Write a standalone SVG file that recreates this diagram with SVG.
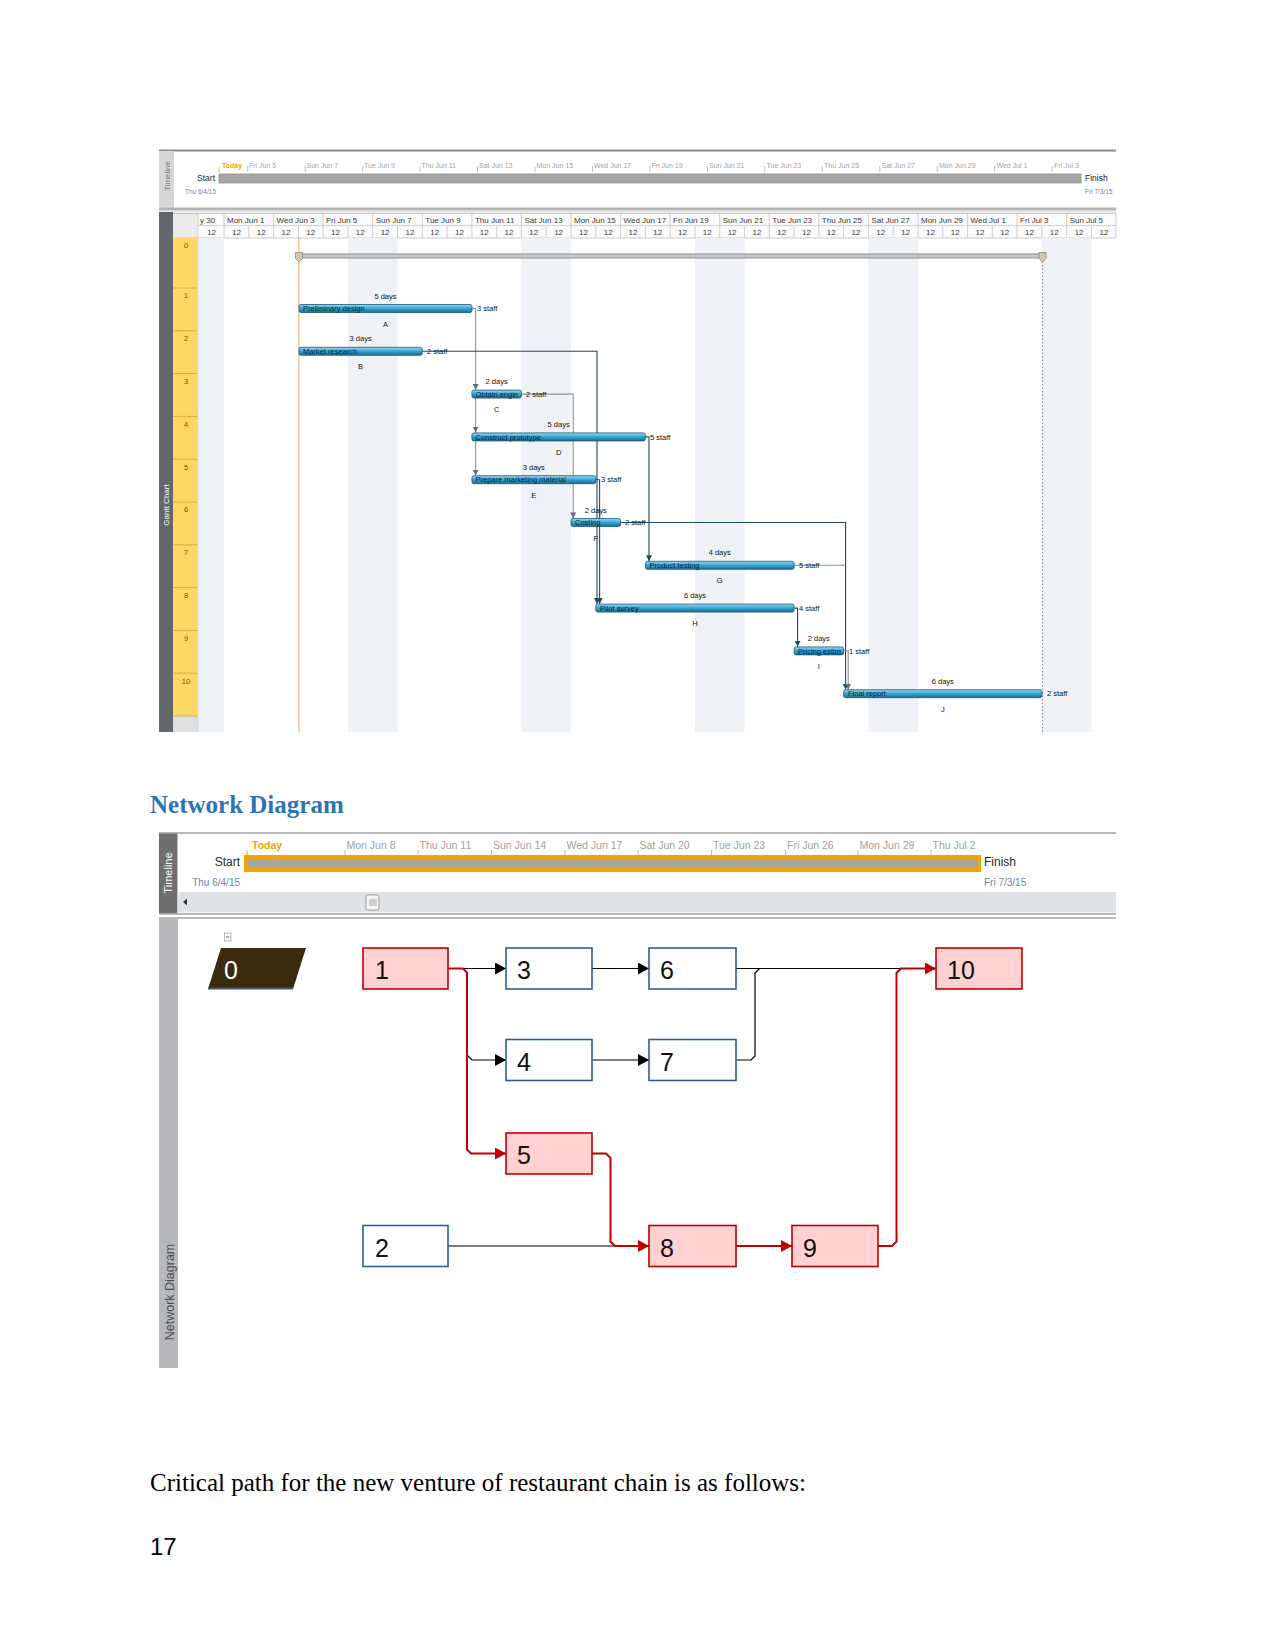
<svg xmlns="http://www.w3.org/2000/svg" width="1275" height="1650" viewBox="0 0 1275 1650">
<style>
.ui{font-family:"Liberation Sans Narrow","Liberation Sans",Arial,sans-serif}
.tl{font-size:7px;fill:#a3a3a3}
.hd{font-size:8px;fill:#3a3a3a}
.rl{font-size:7.5px;fill:#6b5500;text-anchor:middle}
.tn{font-size:7.5px;fill:#0b2536}
.lb{font-size:7.5px;fill:#111}
.lc{font-size:7.5px;fill:#111;text-anchor:middle}
.bar{fill:url(#barGrad);stroke:#175a78;stroke-width:0.8}
.cd{fill:none;stroke:#1c4d62;stroke-width:1.1}
.cg{fill:none;stroke:#87939a;stroke-width:1.1}
.nt{font-size:10.5px;fill:#a0a0a0}
.nd{font-family:"Liberation Sans Narrow","Liberation Sans",Arial,sans-serif;font-size:25px;fill:#111}
.crit{fill:#ffd1d1;stroke:#c00000;stroke-width:1.6}
.norm{fill:#ffffff;stroke:#2d5e97;stroke-width:1.6}
.nb{fill:none;stroke:#000;stroke-width:1.2}
.nr{fill:none;stroke:#c00000;stroke-width:2}
</style>
<defs>
<linearGradient id="barGrad" x1="0" y1="0" x2="0" y2="1">
<stop offset="0" stop-color="#9ad9f2"/>
<stop offset="0.45" stop-color="#3ea8d6"/>
<stop offset="1" stop-color="#1a6b92"/>
</linearGradient>
<marker id="aDark" markerUnits="userSpaceOnUse" markerWidth="6" markerHeight="6" refX="6" refY="3" orient="auto"><path d="M0,0 L6,3 L0,6 z" fill="#1c4d62"/></marker>
<marker id="aGray" markerUnits="userSpaceOnUse" markerWidth="6" markerHeight="6" refX="6" refY="3" orient="auto"><path d="M0,0 L6,3 L0,6 z" fill="#5f6d75"/></marker>
<marker id="nBlack" markerUnits="userSpaceOnUse" markerWidth="11" markerHeight="12" refX="11" refY="6" orient="auto"><path d="M0,0 L11,6 L0,12 z" fill="#000"/></marker>
<marker id="nRed" markerUnits="userSpaceOnUse" markerWidth="11" markerHeight="12" refX="11" refY="6" orient="auto"><path d="M0,0 L11,6 L0,12 z" fill="#c00000"/></marker>
</defs>
<rect width="1275" height="1650" fill="#ffffff"/>

<!-- ================= GANTT ================= -->
<g id="gantt-timeline">
<line x1="159" y1="150.5" x2="1116" y2="150.5" stroke="#8c8c8c" stroke-width="2"/>
<rect x="159" y="151" width="15" height="57" fill="#d6d6d6"/>
<text class="ui" x="0" y="0" font-size="8" fill="#7a7a7a" text-anchor="middle" transform="translate(169.5,176) rotate(-90)">Timeline</text>
<g class="ui">
<line x1="219" y1="166" x2="219" y2="172" stroke="#f0a000" stroke-width="0.8"/>
<text x="222" y="168" font-size="7" font-weight="bold" fill="#f0a000">Today</text>
<g stroke="#b0b0b0" stroke-width="0.8">
<line x1="247.7" y1="166" x2="247.7" y2="172"/><line x1="305.2" y1="166" x2="305.2" y2="172"/><line x1="362.7" y1="166" x2="362.7" y2="172"/><line x1="420.1" y1="166" x2="420.1" y2="172"/><line x1="477.6" y1="166" x2="477.6" y2="172"/><line x1="535" y1="166" x2="535" y2="172"/><line x1="592.5" y1="166" x2="592.5" y2="172"/><line x1="649.9" y1="166" x2="649.9" y2="172"/><line x1="707.4" y1="166" x2="707.4" y2="172"/><line x1="764.8" y1="166" x2="764.8" y2="172"/><line x1="822.3" y1="166" x2="822.3" y2="172"/><line x1="879.8" y1="166" x2="879.8" y2="172"/><line x1="937.2" y1="166" x2="937.2" y2="172"/><line x1="994.7" y1="166" x2="994.7" y2="172"/><line x1="1052.1" y1="166" x2="1052.1" y2="172"/>
</g>
<text class="tl" x="249" y="168">Fri Jun 5</text>
<text class="tl" x="306.5" y="168">Sun Jun 7</text>
<text class="tl" x="364" y="168">Tue Jun 9</text>
<text class="tl" x="421.5" y="168">Thu Jun 11</text>
<text class="tl" x="479" y="168">Sat Jun 13</text>
<text class="tl" x="536.5" y="168">Mon Jun 15</text>
<text class="tl" x="594" y="168">Wed Jun 17</text>
<text class="tl" x="651.5" y="168">Fri Jun 19</text>
<text class="tl" x="709" y="168">Sun Jun 21</text>
<text class="tl" x="766.5" y="168">Tue Jun 23</text>
<text class="tl" x="824" y="168">Thu Jun 25</text>
<text class="tl" x="881.5" y="168">Sat Jun 27</text>
<text class="tl" x="939" y="168">Mon Jun 29</text>
<text class="tl" x="996.5" y="168">Wed Jul 1</text>
<text class="tl" x="1054" y="168">Fri Jul 3</text>
<rect x="219" y="174" width="862" height="9" fill="#a6a6a6" stroke="#8d8d8d" stroke-width="0.8"/>
<text x="215" y="181" font-size="8.5" fill="#222" text-anchor="end">Start</text>
<text x="216" y="194" font-size="6.5" fill="#6f86b3" text-anchor="end">Thu 6/4/15</text>
<text x="1085" y="181" font-size="8.5" fill="#222">Finish</text>
<text x="1085" y="194" font-size="6.5" fill="#6f86b3">Fri 7/3/15</text>
</g>
<rect x="159" y="207.5" width="957" height="3" fill="#b3b3b3"/>
<line x1="159" y1="212" x2="1116" y2="212" stroke="#d0d0d0" stroke-width="1"/>
</g>

<g id="gantt-grid">
<rect x="159" y="212" width="14" height="520" fill="#63676c"/>
<text class="ui" x="0" y="0" font-size="8" fill="#ffffff" text-anchor="middle" transform="translate(169,505) rotate(-90)">Gantt Chart</text>
<rect x="173" y="213" width="25" height="25" fill="#ebebeb"/>
<rect x="198" y="213.5" width="918" height="24.5" fill="#fbfbfb"/>
<line x1="173" y1="213.5" x2="1116" y2="213.5" stroke="#bdbdbd" stroke-width="0.8"/>
<line x1="198" y1="225.5" x2="1116" y2="225.5" stroke="#c4c4c4" stroke-width="0.8"/>
<line x1="173" y1="238" x2="1116" y2="238" stroke="#bdbdbd" stroke-width="0.8"/>
<g stroke="#c4c4c4" stroke-width="0.8">
<line x1="198" y1="213.5" x2="198" y2="238"/>
<line x1="224" y1="213.5" x2="224" y2="238"/><line x1="273.6" y1="213.5" x2="273.6" y2="238"/><line x1="323.1" y1="213.5" x2="323.1" y2="238"/><line x1="372.7" y1="213.5" x2="372.7" y2="238"/><line x1="422.3" y1="213.5" x2="422.3" y2="238"/><line x1="471.9" y1="213.5" x2="471.9" y2="238"/><line x1="521.4" y1="213.5" x2="521.4" y2="238"/><line x1="571" y1="213.5" x2="571" y2="238"/><line x1="620.6" y1="213.5" x2="620.6" y2="238"/><line x1="670.1" y1="213.5" x2="670.1" y2="238"/><line x1="719.7" y1="213.5" x2="719.7" y2="238"/><line x1="769.3" y1="213.5" x2="769.3" y2="238"/><line x1="818.8" y1="213.5" x2="818.8" y2="238"/><line x1="868.4" y1="213.5" x2="868.4" y2="238"/><line x1="918" y1="213.5" x2="918" y2="238"/><line x1="967.6" y1="213.5" x2="967.6" y2="238"/><line x1="1017.1" y1="213.5" x2="1017.1" y2="238"/><line x1="1066.7" y1="213.5" x2="1066.7" y2="238"/><line x1="1116" y1="213.5" x2="1116" y2="238"/>
<line x1="248.8" y1="225.5" x2="248.8" y2="238"/><line x1="298.4" y1="225.5" x2="298.4" y2="238"/><line x1="347.9" y1="225.5" x2="347.9" y2="238"/><line x1="397.5" y1="225.5" x2="397.5" y2="238"/><line x1="447.1" y1="225.5" x2="447.1" y2="238"/><line x1="496.6" y1="225.5" x2="496.6" y2="238"/><line x1="546.2" y1="225.5" x2="546.2" y2="238"/><line x1="595.8" y1="225.5" x2="595.8" y2="238"/><line x1="645.4" y1="225.5" x2="645.4" y2="238"/><line x1="694.9" y1="225.5" x2="694.9" y2="238"/><line x1="744.5" y1="225.5" x2="744.5" y2="238"/><line x1="794.1" y1="225.5" x2="794.1" y2="238"/><line x1="843.6" y1="225.5" x2="843.6" y2="238"/><line x1="893.2" y1="225.5" x2="893.2" y2="238"/><line x1="942.8" y1="225.5" x2="942.8" y2="238"/><line x1="992.3" y1="225.5" x2="992.3" y2="238"/><line x1="1041.9" y1="225.5" x2="1041.9" y2="238"/><line x1="1091.5" y1="225.5" x2="1091.5" y2="238"/>
</g>
<g class="ui hd">
<text x="200" y="223">y 30</text>
<text x="227" y="223">Mon Jun 1</text><text x="276.6" y="223">Wed Jun 3</text><text x="326.1" y="223">Fri Jun 5</text><text x="375.7" y="223">Sun Jun 7</text><text x="425.3" y="223">Tue Jun 9</text><text x="474.9" y="223">Thu Jun 11</text><text x="524.4" y="223">Sat Jun 13</text><text x="574" y="223">Mon Jun 15</text><text x="623.6" y="223">Wed Jun 17</text><text x="673.1" y="223">Fri Jun 19</text><text x="722.7" y="223">Sun Jun 21</text><text x="772.3" y="223">Tue Jun 23</text><text x="821.8" y="223">Thu Jun 25</text><text x="871.4" y="223">Sat Jun 27</text><text x="921" y="223">Mon Jun 29</text><text x="970.6" y="223">Wed Jul 1</text><text x="1020.1" y="223">Fri Jul 3</text><text x="1069.7" y="223">Sun Jul 5</text>
</g>
<g class="ui hd" text-anchor="middle">
<text x="211.6" y="235">12</text><text x="236.4" y="235">12</text><text x="261.2" y="235">12</text><text x="286" y="235">12</text><text x="310.8" y="235">12</text><text x="335.5" y="235">12</text><text x="360.3" y="235">12</text><text x="385.1" y="235">12</text><text x="409.9" y="235">12</text><text x="434.7" y="235">12</text><text x="459.5" y="235">12</text><text x="484.3" y="235">12</text><text x="509" y="235">12</text><text x="533.8" y="235">12</text><text x="558.6" y="235">12</text><text x="583.4" y="235">12</text><text x="608.2" y="235">12</text><text x="633" y="235">12</text><text x="657.8" y="235">12</text><text x="682.5" y="235">12</text><text x="707.3" y="235">12</text><text x="732.1" y="235">12</text><text x="756.9" y="235">12</text><text x="781.7" y="235">12</text><text x="806.5" y="235">12</text><text x="831.2" y="235">12</text><text x="856" y="235">12</text><text x="880.8" y="235">12</text><text x="905.6" y="235">12</text><text x="930.4" y="235">12</text><text x="955.2" y="235">12</text><text x="980" y="235">12</text><text x="1004.7" y="235">12</text><text x="1029.5" y="235">12</text><text x="1054.3" y="235">12</text><text x="1079.1" y="235">12</text><text x="1103.9" y="235">12</text>
</g>
<!-- weekend shading -->
<g fill="#eef1f6">
<rect x="198" y="238" width="26" height="494"/>
<rect x="347.9" y="238" width="49.6" height="494"/>
<rect x="521.4" y="238" width="49.6" height="494"/>
<rect x="694.9" y="238" width="49.6" height="494"/>
<rect x="868.4" y="238" width="49.6" height="494"/>
<rect x="1041.9" y="238" width="49.6" height="494"/>
</g>
<!-- row header -->
<rect x="173" y="238" width="25" height="478" fill="#fed866"/>
<rect x="173" y="716" width="25" height="16" fill="#dedfe1"/>
<g stroke="#c9a33a" stroke-width="0.8">
<line x1="173" y1="288" x2="198" y2="288"/><line x1="173" y1="330.8" x2="198" y2="330.8"/><line x1="173" y1="373.6" x2="198" y2="373.6"/><line x1="173" y1="416.4" x2="198" y2="416.4"/><line x1="173" y1="459.2" x2="198" y2="459.2"/><line x1="173" y1="502" x2="198" y2="502"/><line x1="173" y1="544.8" x2="198" y2="544.8"/><line x1="173" y1="587.6" x2="198" y2="587.6"/><line x1="173" y1="630.4" x2="198" y2="630.4"/><line x1="173" y1="673.2" x2="198" y2="673.2"/><line x1="173" y1="716" x2="198" y2="716"/>
</g>
<line x1="198" y1="238" x2="198" y2="732" stroke="#d9d9d9" stroke-width="0.8"/>
<g class="ui rl">
<text x="186" y="248">0</text><text x="186" y="298">1</text><text x="186" y="341">2</text><text x="186" y="384">3</text><text x="186" y="426.5">4</text><text x="186" y="469.5">5</text><text x="186" y="512">6</text><text x="186" y="555">7</text><text x="186" y="598">8</text><text x="186" y="640.5">9</text><text x="186" y="683.5">10</text>
</g>
<!-- today line -->
<line x1="298.9" y1="238" x2="298.9" y2="732" stroke="#f4a06a" stroke-width="1"/>
<!-- project end dotted line -->
<line x1="1042.5" y1="258" x2="1042.5" y2="732" stroke="#8a8a8a" stroke-width="1" stroke-dasharray="1.5,2"/>
</g>

<g id="task-0">
<rect x="299" y="254" width="743" height="4" fill="#c9c9c9" stroke="#7b7b7b" stroke-width="0.8"/>
<path d="M295.5,252.5 H302.5 V258.5 L299,262 L295.5,258.5 z" fill="#cfc6b8" stroke="#867b6b" stroke-width="0.7"/>
<path d="M1039,252.5 H1046 V258.5 L1042.5,262 L1039,258.5 z" fill="#cfc6b8" stroke="#867b6b" stroke-width="0.7"/>
</g>

<g id="gantt-connectors">
<path class="cg" d="M472,308.5 H475.6 V390" marker-end="url(#aGray)"/>
<path class="cg" d="M475.6,390 V432.8" marker-end="url(#aGray)"/>
<path class="cg" d="M475.6,432.8 V475.6" marker-end="url(#aGray)"/>
<path class="cd" d="M422.3,351.3 H597 V604" marker-end="url(#aDark)"/>
<path class="cd" d="M595.8,479.7 H599.6 V604" marker-end="url(#aDark)"/>
<path class="cg" d="M521.4,394.1 H573.2 V518.4" marker-end="url(#aGray)"/>
<path class="cd" d="M645.4,436.9 H649 V561.2" marker-end="url(#aDark)"/>
<path class="cd" d="M620.6,522.5 H845.6 V689.6" marker-end="url(#aDark)"/>
<path class="cg" d="M794.1,565.3 H845.6"/>
<path class="cd" d="M794.1,608.1 H797.6 V646.8" marker-end="url(#aDark)"/>
<path class="cg" d="M843.6,650.9 H848.2 V689.6" marker-end="url(#aGray)"/>
</g>

<g id="task-A" class="ui"><text class="lc" x="385.5" y="298.5">5 days</text><rect class="bar" x="299" y="304.5" width="173" height="8" rx="2"/><text class="tn" x="303" y="311.2">Preliminary design</text><text class="lb" x="477" y="311.2">3 staff</text><text class="lc" x="385.5" y="326.5">A</text></g>
<g id="task-B" class="ui"><text class="lc" x="360.6" y="341.3">3 days</text><rect class="bar" x="299" y="347.3" width="123.3" height="8" rx="2"/><text class="tn" x="303" y="354">Market research</text><text class="lb" x="427" y="354">2 staff</text><text class="lc" x="360.6" y="369.3">B</text></g>
<g id="task-C" class="ui"><text class="lc" x="496.6" y="384.1">2 days</text><rect class="bar" x="471.9" y="390.1" width="49.5" height="8" rx="2"/><text class="tn" x="475.5" y="396.8">Obtain engin</text><text class="lb" x="526" y="396.8">2 staff</text><text class="lc" x="496.6" y="412.1">C</text></g>
<g id="task-D" class="ui"><text class="lc" x="558.6" y="426.9">5 days</text><rect class="bar" x="471.9" y="432.9" width="173.5" height="8" rx="2"/><text class="tn" x="475.5" y="439.6">Construct prototype</text><text class="lb" x="650" y="439.6">5 staff</text><text class="lc" x="558.6" y="454.9">D</text></g>
<g id="task-E" class="ui"><text class="lc" x="533.8" y="469.7">3 days</text><rect class="bar" x="471.9" y="475.7" width="123.9" height="8" rx="2"/><text class="tn" x="475.5" y="482.4">Prepare marketing material</text><text class="lb" x="601" y="482.4">3 staff</text><text class="lc" x="533.8" y="497.7">E</text></g>
<g id="task-F" class="ui"><text class="lc" x="595.8" y="512.5">2 days</text><rect class="bar" x="571" y="518.5" width="49.6" height="8" rx="2"/><text class="tn" x="575" y="525.2">Costing</text><text class="lb" x="625" y="525.2">2 staff</text><text class="lc" x="595.8" y="540.5">F</text></g>
<g id="task-G" class="ui"><text class="lc" x="719.7" y="555.3">4 days</text><rect class="bar" x="645.4" y="561.3" width="148.7" height="8" rx="2"/><text class="tn" x="649.5" y="568">Product testing</text><text class="lb" x="799" y="568">5 staff</text><text class="lc" x="719.7" y="583.3">G</text></g>
<g id="task-H" class="ui"><text class="lc" x="695" y="598.1">6 days</text><rect class="bar" x="595.8" y="604.1" width="198.3" height="8" rx="2"/><text class="tn" x="600" y="610.8">Pilot survey</text><text class="lb" x="799" y="610.8">4 staff</text><text class="lc" x="695" y="626.1">H</text></g>
<g id="task-I" class="ui"><text class="lc" x="818.8" y="640.9">2 days</text><rect class="bar" x="794.1" y="646.9" width="49.5" height="8" rx="2"/><text class="tn" x="798" y="653.6">Pricing estim</text><text class="lb" x="849" y="653.6">1 staff</text><text class="lc" x="818.8" y="668.9">I</text></g>
<g id="task-J" class="ui"><text class="lc" x="942.8" y="683.7">6 days</text><rect class="bar" x="843.6" y="689.7" width="198.3" height="8" rx="2"/><text class="tn" x="848" y="696.4">Final report</text><text class="lb" x="1047" y="696.4">2 staff</text><text class="lc" x="942.8" y="711.7">J</text></g>

<!-- ================= NETWORK DIAGRAM ================= -->
<text id="heading" x="150" y="813" font-family="'Liberation Serif',serif" font-size="25" font-weight="bold" fill="#2e74b5">Network Diagram</text>

<g id="network-timeline" class="ui">
<line x1="159" y1="833" x2="1116" y2="833" stroke="#a3a3a3" stroke-width="1.5"/>
<rect x="159" y="833.5" width="18.5" height="80" fill="#6f6f6f"/>
<text x="0" y="0" font-size="11" fill="#ffffff" text-anchor="middle" transform="translate(172,873) rotate(-90)">Timeline</text>
<line x1="247" y1="850" x2="247" y2="855" stroke="#f5a100" stroke-width="1"/>
<text x="252" y="849" font-size="10.5" font-weight="bold" fill="#f5a100">Today</text>
<g stroke="#a8a8a8" stroke-width="0.8">
<line x1="345" y1="850" x2="345" y2="855"/><line x1="418" y1="850" x2="418" y2="855"/><line x1="491.5" y1="850" x2="491.5" y2="855"/><line x1="565" y1="850" x2="565" y2="855"/><line x1="638" y1="850" x2="638" y2="855"/><line x1="711.5" y1="850" x2="711.5" y2="855"/><line x1="785.5" y1="850" x2="785.5" y2="855"/><line x1="858" y1="850" x2="858" y2="855"/><line x1="931" y1="850" x2="931" y2="855"/>
</g>
<text class="nt" x="346.5" y="849">Mon Jun 8</text>
<text class="nt" x="419.5" y="849">Thu Jun 11</text>
<text class="nt" x="493" y="849">Sun Jun 14</text>
<text class="nt" x="566.5" y="849">Wed Jun 17</text>
<text class="nt" x="639.5" y="849">Sat Jun 20</text>
<text class="nt" x="713" y="849">Tue Jun 23</text>
<text class="nt" x="787" y="849">Fri Jun 26</text>
<text class="nt" x="859.5" y="849">Mon Jun 29</text>
<text class="nt" x="932.5" y="849">Thu Jul 2</text>
<rect x="244" y="855" width="737" height="17" fill="#f5a300"/>
<rect x="247.5" y="859" width="730" height="9" fill="#a5a79e"/>
<text x="240" y="866" font-size="12" fill="#2a2a2a" text-anchor="end">Start</text>
<text x="240" y="886" font-size="10" fill="#6d84b0" text-anchor="end">Thu 6/4/15</text>
<text x="984" y="866" font-size="12" fill="#2a2a2a">Finish</text>
<text x="984" y="886" font-size="10" fill="#6d84b0">Fri 7/3/15</text>
<rect x="177.5" y="892" width="938.5" height="20.5" fill="#dfe2e7"/>
<path d="M183,902 L187,898.5 V905.5 z" fill="#333"/>
<rect x="366" y="895" width="13" height="15" rx="1.5" fill="#f4f4f4" stroke="#8c8c8c" stroke-width="0.8"/>
<g stroke="#777" stroke-width="0.6"><line x1="370" y1="899" x2="370" y2="906"/><line x1="372" y1="899" x2="372" y2="906"/><line x1="374" y1="899" x2="374" y2="906"/><line x1="376" y1="899" x2="376" y2="906"/></g>
<line x1="159" y1="914" x2="1116" y2="914" stroke="#a3a3a3" stroke-width="1.5"/>
<line x1="159" y1="918" x2="1116" y2="918" stroke="#a3a3a3" stroke-width="1.5"/>
</g>

<g id="network-frame" class="ui">
<rect x="159" y="919" width="19" height="449" fill="#b6b8bc"/>
<text x="0" y="0" font-size="12.5" fill="#4f4f4f" text-anchor="middle" transform="translate(173.5,1292) rotate(-90)">Network Diagram</text>
<rect x="224.5" y="933" width="6.5" height="8" fill="#fafafa" stroke="#9a9a9a" stroke-width="0.7"/>
<line x1="226" y1="937" x2="229.5" y2="937" stroke="#444" stroke-width="0.8"/>
</g>

<g id="network-connectors">
<path class="nb" d="M463,968.5 H506" marker-end="url(#nBlack)"/>
<path class="nb" d="M467,1055 L472,1060 H506" marker-end="url(#nBlack)"/>
<path class="nb" d="M592,968.5 H649" marker-end="url(#nBlack)"/>
<path class="nb" d="M592,1060 H649" marker-end="url(#nBlack)"/>
<path class="nb" d="M736,968.5 H902"/>
<path class="nb" d="M736,1060 H751 L755,1056 V973 L759.5,968.5"/>
<path class="nb" d="M448,1246 H616"/>
<path class="nr" stroke-width="1.6" d="M448,968.5 H463 L467,972.5 V1149.5 L471,1153.5 H506" marker-end="url(#nRed)"/>
<path class="nr" d="M592,1153.5 H606 L610.5,1158 V1241.5 L615,1246 H649" marker-end="url(#nRed)"/>
<path class="nr" d="M736,1246 H792" marker-end="url(#nRed)"/>
<path class="nr" stroke-width="1.6" d="M878,1246 H892 L896.5,1241.5 V973 L901,968.5 H936" marker-end="url(#nRed)"/>
</g>

<g id="node-0"><path d="M221,948 H306 L293,989 H208 z" fill="#3c2a0f"/><line x1="208" y1="988.5" x2="293" y2="988.5" stroke="#3a5a7a" stroke-width="2.2"/><text class="nd" x="224" y="979" style="fill:#fff">0</text></g>
<g id="node-1"><rect class="crit" x="363" y="948" width="85" height="41"/><text class="nd" x="375" y="979">1</text></g>
<g id="node-3"><rect class="norm" x="506" y="948" width="86" height="41"/><text class="nd" x="517" y="979">3</text></g>
<g id="node-6"><rect class="norm" x="649" y="948" width="87" height="41"/><text class="nd" x="660" y="979">6</text></g>
<g id="node-10"><rect class="crit" x="936" y="948" width="86" height="41"/><text class="nd" x="947" y="979">10</text></g>
<g id="node-4"><rect class="norm" x="506" y="1039.5" width="86" height="41"/><text class="nd" x="517" y="1070.5">4</text></g>
<g id="node-7"><rect class="norm" x="649" y="1039.5" width="87" height="41"/><text class="nd" x="660" y="1070.5">7</text></g>
<g id="node-5"><rect class="crit" x="506" y="1133" width="86" height="41"/><text class="nd" x="517" y="1164">5</text></g>
<g id="node-2"><rect class="norm" x="363" y="1225.5" width="85" height="41"/><text class="nd" x="375" y="1256.5">2</text></g>
<g id="node-8"><rect class="crit" x="649" y="1225.5" width="87" height="41"/><text class="nd" x="660" y="1256.5">8</text></g>
<g id="node-9"><rect class="crit" x="792" y="1225.5" width="86" height="41"/><text class="nd" x="803" y="1256.5">9</text></g>

<text id="body-text" x="150" y="1491" font-family="'Liberation Serif',serif" font-size="25" fill="#000">Critical path for the new venture of restaurant chain is as follows:</text>
<text id="page-number" x="150" y="1555" font-family="'Liberation Sans',Arial,sans-serif" font-size="24" fill="#000">17</text>
</svg>
